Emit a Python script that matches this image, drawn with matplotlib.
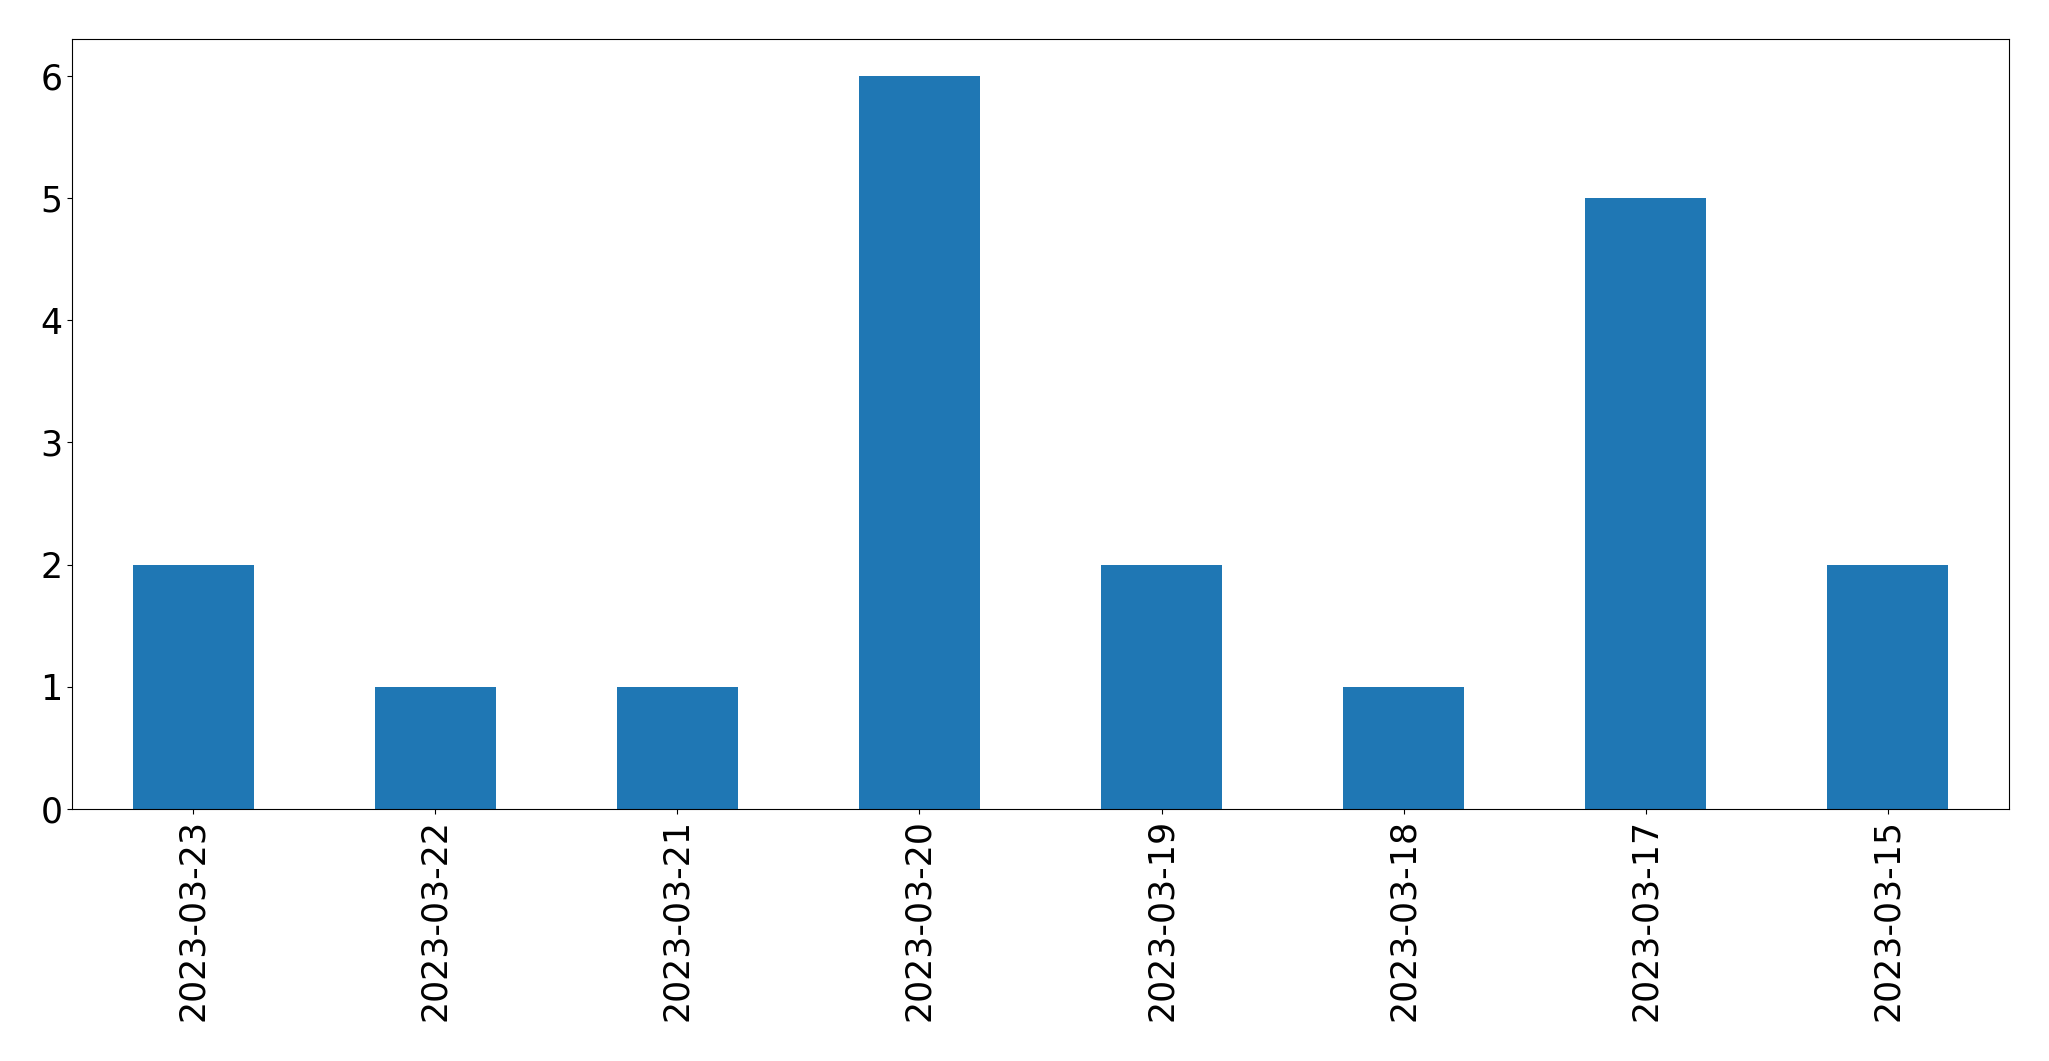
import matplotlib
matplotlib.use('Agg')
import matplotlib.pyplot as plt
import pandas as pd

# counts per day, in the order shown
dates = ['2023-03-23', '2023-03-22', '2023-03-21', '2023-03-20',
         '2023-03-19', '2023-03-18', '2023-03-17', '2023-03-15']
counts = [2, 1, 1, 6, 2, 1, 5, 2]

series = pd.Series(counts, index=dates)

fig = plt.figure(figsize=(20.49, 10.61), dpi=100)
ax = fig.add_axes([72/2049, 252/1061, (2009-72)/2049, (809-39)/1061])

series.plot(kind='bar', ax=ax, color='#1f77b4', width=0.5)

ax.tick_params(axis='both', labelsize=25)
plt.setp(ax.get_xticklabels(), rotation=90)

fig.savefig('out.png', dpi=100)
